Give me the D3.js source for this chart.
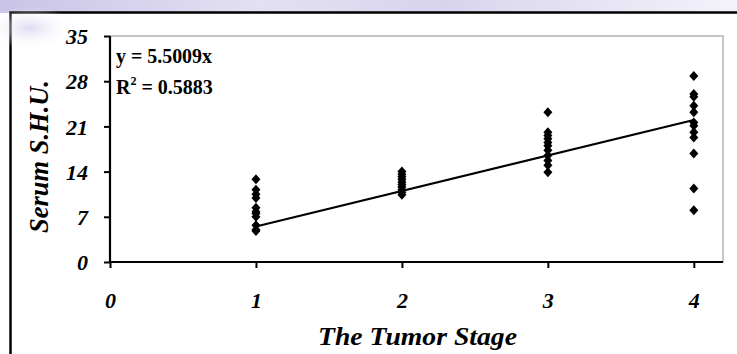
<!DOCTYPE html>
<html><head><meta charset="utf-8">
<script src="https://cdn.jsdelivr.net/npm/d3@7"></script>
<style>
html,body{margin:0;padding:0;background:#fff;overflow:hidden}
text{font-family:"Liberation Serif","Times New Roman",serif;font-weight:bold}
</style></head>
<body><svg id="c" width="737" height="354"></svg>
<script>
const stages = [1, 2, 3, 4];
const stage1 = [12.8, 11.2, 10.5, 9.9, 8.4, 7.8, 7.5, 7.0, 5.7, 5.0, 4.8];
const stage2 = [14.0, 13.6, 13.2, 12.8, 12.4, 12.0, 11.6, 11.2, 10.8, 10.4];
const stage3 = [23.2, 20.1, 19.6, 19.1, 18.5, 18.0, 17.3, 16.5, 15.7, 15.0, 13.9];
const stage4 = [28.8, 26.0, 25.6, 24.2, 23.2, 21.6, 21.1, 20.1, 19.3, 16.8, 11.4, 8.0];
const slope = 5.5009;
const eqText = "y = 5.5009x";
const r2Text = "0.5883";
const xTicks = [0, 1, 2, 3, 4];
const yTicks = [0, 7, 14, 21, 28, 35];
const xTitle = "The Tumor Stage";
const yTitle = "Serum S.H.U.";

const svg = d3.select("#c");
const defs = svg.append("defs");
const g1 = defs.append("linearGradient").attr("id","wm").attr("x1",0).attr("x2",1).attr("y1",0).attr("y2",0);
g1.append("stop").attr("offset","0%").attr("stop-color","#c9c3e6");
g1.append("stop").attr("offset","35%").attr("stop-color","#e4e0f3");
g1.append("stop").attr("offset","60%").attr("stop-color","#d9d4ee");
g1.append("stop").attr("offset","100%").attr("stop-color","#f4f2fa");
const rg = defs.append("radialGradient").attr("id","blob");
rg.append("stop").attr("offset","0%").attr("stop-color","#d6d1ee").attr("stop-opacity",0.8);
rg.append("stop").attr("offset","100%").attr("stop-color","#ffffff").attr("stop-opacity",0);
svg.append("rect").attr("x",0).attr("y",0).attr("width",737).attr("height",13).attr("fill","url(#wm)");

// outer frame
svg.append("rect").attr("x",10.5).attr("y",12.5).attr("width",760).attr("height",400)
  .attr("fill","#fff").attr("stroke","#000").attr("stroke-width",2.5);
svg.append("ellipse").attr("cx",30).attr("cy",28).attr("rx",45).attr("ry",22).attr("fill","url(#blob)");

const L = 110, R = 723, T = 36, B = 262;
const x = d3.scaleLinear().domain([0, 4.2]).range([L, R]);
const y = d3.scaleLinear().domain([0, 35]).range([B, T]);

svg.append("rect").attr("x",L).attr("y",T).attr("width",R-L).attr("height",B-T)
  .attr("fill","#fff").attr("stroke","#a0a0a0").attr("stroke-width",1.2);

const yAxis = svg.append("g").attr("transform",`translate(${L},0)`)
  .call(d3.axisLeft(y).tickValues(yTicks).tickSize(6).tickFormat(d3.format("d")));
const xAxis = svg.append("g").attr("transform",`translate(0,${B})`)
  .call(d3.axisBottom(x).tickValues(xTicks).tickSize(6).tickFormat(d3.format("d")));
[yAxis, xAxis].forEach(a => {
  a.select(".domain").attr("stroke","#000").attr("stroke-width",2.2);
  a.selectAll(".tick line").attr("stroke","#000").attr("stroke-width",2);
  a.selectAll(".tick text").attr("fill","#000").attr("font-size",22).attr("font-style","italic")
   .attr("font-family","'Liberation Serif','Times New Roman',serif").attr("font-weight","bold");
});
xAxis.select(".domain").attr("d",`M${L},0H${R}`);
yAxis.select(".domain").attr("d",`M0,${B}V${T}`);
yAxis.selectAll(".tick text").attr("x",-22).attr("dy","0.35em");
xAxis.selectAll(".tick text").attr("y",38).attr("dy","0.35em");

svg.append("line")
  .attr("x1",x(1)).attr("y1",y(slope*1))
  .attr("x2",x(4)).attr("y2",y(slope*4))
  .attr("stroke","#000").attr("stroke-width",2);

const series = [stage1, stage2, stage3, stage4];
const pts = [];
series.forEach((vals,i) => vals.forEach(v => pts.push({s: stages[i], v})));
const dia = "M0,-5L4.5,0L0,5L-4.5,0Z";
svg.append("g").selectAll("path").data(pts).join("path")
  .attr("d",dia).attr("transform",d=>`translate(${x(d.s)},${y(d.v)})`).attr("fill","#000");

svg.append("text").attr("x",116).attr("y",63).attr("font-size",20)
  .attr("textLength",96).attr("lengthAdjust","spacingAndGlyphs").text(eqText);
const r2 = svg.append("text").attr("x",116).attr("y",94).attr("font-size",20);
r2.append("tspan").text("R");
r2.append("tspan").attr("font-size",12).attr("dy",-9).text("2");
r2.append("tspan").attr("dy",9).text(" = " + r2Text);

svg.append("text").attr("x",417.5).attr("y",345).attr("text-anchor","middle")
  .attr("font-size",25).attr("font-style","italic")
  .attr("textLength",199).attr("lengthAdjust","spacingAndGlyphs").text(xTitle);
svg.append("text").attr("transform","translate(48,156.5) rotate(-90)")
  .attr("text-anchor","middle").attr("font-size",28).attr("font-style","italic")
  .attr("textLength",153).attr("lengthAdjust","spacingAndGlyphs").text(yTitle);
</script></body></html>
